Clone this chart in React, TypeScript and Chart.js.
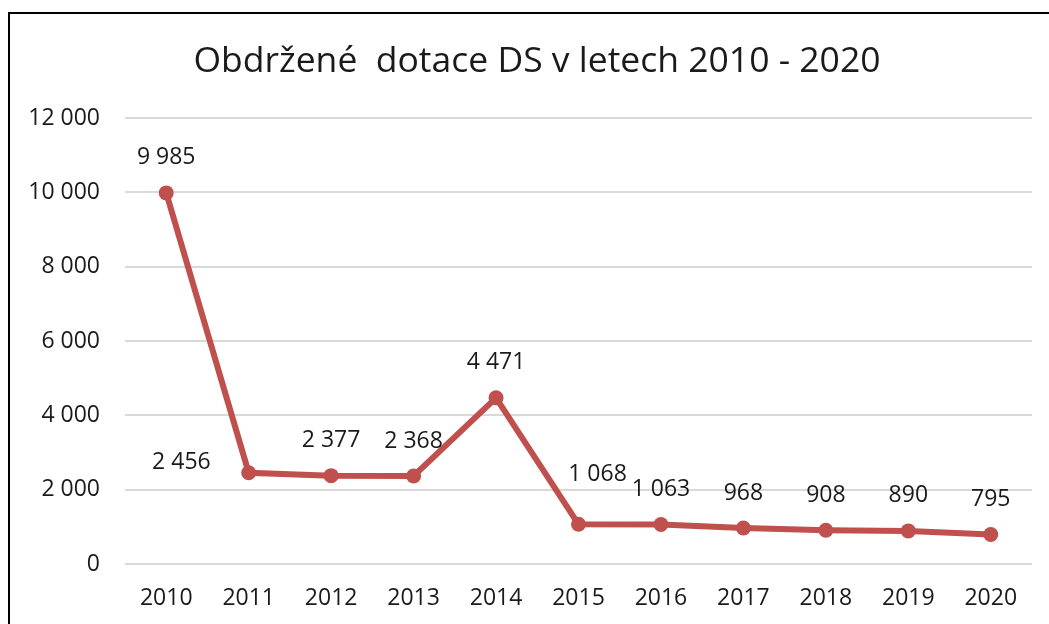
import React, { useEffect, useRef } from "react";
import { Chart, registerables } from "chart.js";

Chart.register(...registerables);

const TITLE = "Obdržené  dotace DS v letech 2010 - 2020";
const YEARS = ["2010", "2011", "2012", "2013", "2014", "2015", "2016", "2017", "2018", "2019", "2020"];
const VALUES = [9985, 2456, 2377, 2368, 4471, 1068, 1063, 968, 908, 890, 795];
const Y_MIN = 0;
const Y_MAX = 12000;
const Y_STEP = 2000;
const LEFT_LABEL_INDEXES = [1];
const RIGHT_ABOVE_LABEL_INDEXES = [5];

const FONT = "'Open Sans', 'Noto Sans', sans-serif";
const TEXT_COLOR = "#1a1a1a";
const LINE_COLOR = "#C0504D";

function fmt(n: number): string {
  return String(n).replace(/\B(?=(\d{3})+(?!\d))/g, " ");
}

const framePlugin = {
  id: "frame",
  beforeDraw(chart: any) {
    const ctx = chart.ctx;
    ctx.save();
    ctx.fillStyle = "#ffffff";
    ctx.fillRect(0, 0, chart.width, chart.height);
    ctx.strokeStyle = "#000000";
    ctx.lineWidth = 2;
    ctx.beginPath();
    ctx.moveTo(9, chart.height + 5);
    ctx.lineTo(9, 13);
    ctx.lineTo(chart.width + 5, 13);
    ctx.stroke();
    ctx.restore();
  },
};

const titlePlugin = {
  id: "customTitle",
  afterDraw(chart: any) {
    const ctx = chart.ctx;
    ctx.save();
    ctx.font = `35.5px ${FONT}`;
    ctx.fillStyle = TEXT_COLOR;
    ctx.textAlign = "center";
    ctx.textBaseline = "middle";
    ctx.fillText(TITLE, 537, 62);
    ctx.restore();
  },
};

const labelPlugin = {
  id: "valueLabels",
  afterDatasetsDraw(chart: any) {
    const ctx = chart.ctx;
    const meta = chart.getDatasetMeta(0);
    const data = chart.data.datasets[0].data as number[];
    ctx.save();
    ctx.font = `23px ${FONT}`;
    ctx.fillStyle = TEXT_COLOR;
    ctx.textBaseline = "middle";
    meta.data.forEach((pt: any, i: number) => {
      const text = fmt(data[i]);
      if (LEFT_LABEL_INDEXES.includes(i)) {
        ctx.textAlign = "right";
        ctx.fillText(text, pt.x - 38, pt.y - 10);
      } else if (RIGHT_ABOVE_LABEL_INDEXES.includes(i)) {
        ctx.textAlign = "center";
        ctx.fillText(text, pt.x + 19, pt.y - 50);
      } else {
        ctx.textAlign = "center";
        ctx.fillText(text, pt.x, pt.y - 35);
      }
    });
    ctx.restore();
  },
};

export default function App() {
  const ref = useRef<HTMLCanvasElement | null>(null);

  useEffect(() => {
    if (!ref.current) return;
    const chart = new Chart(ref.current, {
      type: "line",
      data: {
        labels: YEARS,
        datasets: [
          {
            data: VALUES,
            borderColor: LINE_COLOR,
            backgroundColor: LINE_COLOR,
            borderWidth: 6,
            pointRadius: 7.5,
            pointBorderWidth: 0,
            pointBackgroundColor: LINE_COLOR,
            tension: 0,
          },
        ],
      },
      options: {
        responsive: false,
        animation: false,
        layout: { padding: { left: 0, right: 17, top: 118, bottom: 0 } },
        plugins: {
          legend: { display: false },
          title: { display: false },
          tooltip: { enabled: false },
        },
        scales: {
          x: {
            offset: true,
            grid: { display: false, drawTicks: false },
            border: { display: false },
            ticks: {
              color: TEXT_COLOR,
              font: { family: FONT, size: 23 },
              padding: 21,
              maxRotation: 0,
              autoSkip: false,
            },
            afterFit(scale: any) {
              scale.height = 60;
            },
          },
          y: {
            min: Y_MIN,
            max: Y_MAX,
            grid: { color: "#d9d9d9", lineWidth: 2, drawTicks: false },
            border: { display: false },
            ticks: {
              stepSize: Y_STEP,
              color: TEXT_COLOR,
              font: { family: FONT, size: 23 },
              padding: 25,
              callback: (v: any) => fmt(Number(v)),
            },
            afterFit(scale: any) {
              scale.width = 125;
            },
          },
        },
      },
      plugins: [framePlugin, titlePlugin, labelPlugin],
    });
    return () => chart.destroy();
  }, []);

  return (
    <div style={{ position: "absolute", left: 0, top: 0, width: 1049, height: 624, overflow: "hidden" }}>
      <canvas ref={ref} width={1049} height={624} style={{ width: 1049, height: 624, display: "block" }} />
    </div>
  );
}
